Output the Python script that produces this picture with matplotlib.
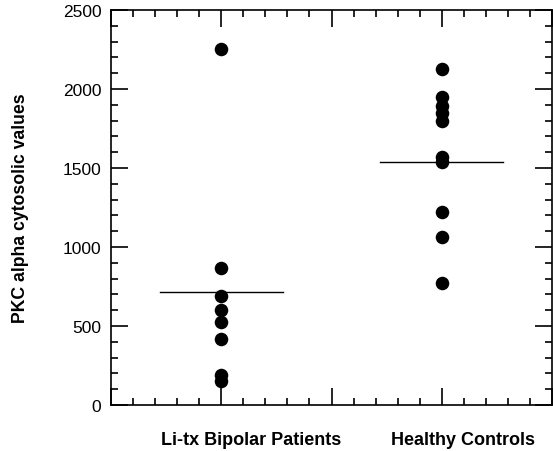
import matplotlib
matplotlib.use("Agg")
import matplotlib.pyplot as plt
from matplotlib.ticker import MultipleLocator, NullFormatter

plt.rcParams['font.family'] = ['Liberation Sans', 'DejaVu Sans']

groups = ["Li-tx Bipolar Patients", "Healthy Controls"]
group_x = [1, 3]
label_x = [1.27, 3.19]
litx_values = [2255, 865, 690, 600, 525, 420, 190, 150]
control_values = [2125, 1950, 1895, 1845, 1795, 1570, 1540, 1220, 1065, 775]
group_lines = [713, 1536]
y_ticks = [0, 500, 1000, 1500, 2000, 2500]

fig = plt.figure(figsize=(5.53, 4.52), dpi=100)
ax = fig.add_axes([111/553, 1-406/452, 441/553, 395/452])

for gx, vals in zip(group_x, [litx_values, control_values]):
    ax.scatter([gx]*len(vals), vals, s=95, color='black', zorder=3, linewidths=0)
for gx, m in zip(group_x, group_lines):
    ax.plot([gx-0.56, gx+0.56], [m, m], color='black', lw=1.0, zorder=2)

ax.set_xlim(0, 4)
ax.set_ylim(0, 2500)
ax.set_yticks(y_ticks)
ax.yaxis.set_minor_locator(MultipleLocator(100))
ax.xaxis.set_major_locator(MultipleLocator(1))
ax.xaxis.set_minor_locator(MultipleLocator(0.2))
ax.xaxis.set_major_formatter(NullFormatter())
ax.tick_params(which='both', direction='in', top=True, right=True, width=1.2, colors='black')
ax.tick_params(which='major', length=12)
ax.tick_params(which='minor', length=5)
ax.tick_params(axis='y', labelsize=12.5, pad=7)
for sp in ax.spines.values():
    sp.set_linewidth(1.2)

ax.set_ylabel("PKC alpha cytosolic values", fontsize=12.7, fontweight='bold', labelpad=24)
for lx, g in zip(label_x, groups):
    ax.text(lx, -0.087, g, transform=ax.get_xaxis_transform(), ha='center', va='center',
            fontsize=13, fontweight='bold')

fig.savefig("out.png", dpi=100)
